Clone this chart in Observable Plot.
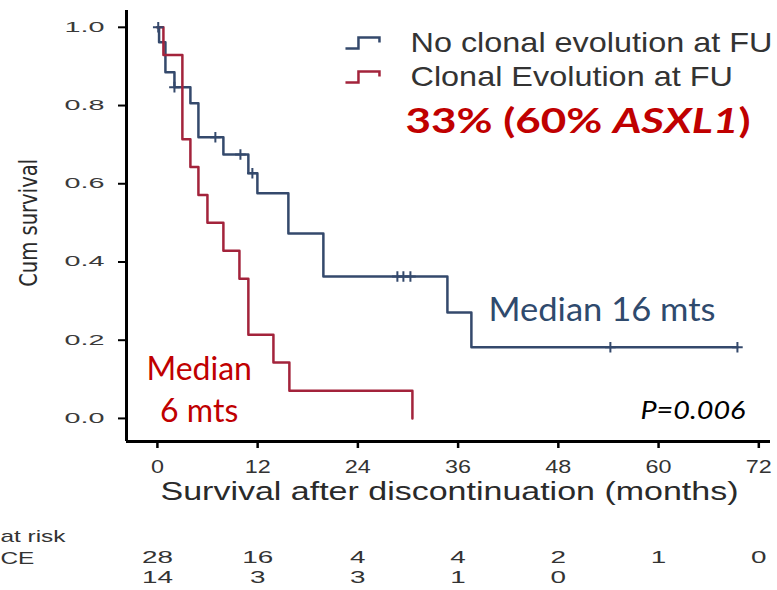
<!DOCTYPE html>
<html>
<head>
<meta charset="utf-8">
<script src="https://cdn.jsdelivr.net/npm/d3@7"></script>
<script src="https://cdn.jsdelivr.net/npm/@observablehq/plot@0.6"></script>
<style>
  html, body { margin: 0; padding: 0; background: #fff; }
  #chart svg { display: block; }
</style>
</head>
<body>
<div id="chart"></div>
<script>
// Kaplan–Meier curves: event times (months) and cumulative survival after each step
const noCeTime = [0, 0.2, 0.96, 2.04, 3.95, 4.91, 7.9, 10.89, 11.97, 15.68, 19.87, 34.72, 37.59, 69.44];
const noCeSurv = [1, 0.962, 0.885, 0.847, 0.806, 0.719, 0.675, 0.627, 0.576, 0.473, 0.363, 0.271, 0.182, 0.182];
const noCeCensorTime = [0.1, 2.04, 6.94, 9.94, 11.37, 28.73, 29.45, 30.29, 54.23, 69.44];
const noCeCensorSurv = [1, 0.847, 0.719, 0.675, 0.627, 0.363, 0.363, 0.363, 0.182, 0.182];
const ceTime = [0, 0.72, 2.99, 3.95, 4.91, 5.99, 7.9, 9.82, 10.89, 13.89, 15.8, 30.53];
const ceSurv = [1, 0.929, 0.714, 0.643, 0.571, 0.5, 0.429, 0.357, 0.214, 0.143, 0.071, 0];

// Legend entries and axis ticks
const groupNames = ["No clonal evolution at FU", "Clonal Evolution at FU"];
const xTicks = [0, 12, 24, 36, 48, 60, 72];
const yTicks = [0, 0.2, 0.4, 0.6, 0.8, 1.0];

// Number at risk table
const riskTimes = [0, 12, 24, 36, 48, 60, 72];
const riskNoCE = [28, 16, 4, 4, 2, 1, 0];
const riskCE = [14, 3, 3, 1, 0];
const riskLabels = ["at risk", "CE"];

// Annotations
const cloneShare = "33% (60% ASXL1)";
const medianNoCE = "Median 16 mts";
const medianCE = "Median\n6 mts";
const pValue = "P=0.006";
const xTitle = "Survival after discontinuation (months)";
const yTitle = "Cum survival";

const BLUE = "#34496c", RED = "#a3233b", ANNOT_RED = "#c00000", ANNOT_BLUE = "#2f4a6d";
const W = 777, H = 590, mL = 126, mR = 7, mT = 10, mB = 149;
const xmin = -3.7, xmax = 73.4, ymin = -0.059, ymax = 1.043;
const pxX = (W - mL - mR) / (xmax - xmin);
const pxY = (H - mT - mB) / (ymax - ymin);

const noCe = noCeTime.map((t, i) => ({t, s: noCeSurv[i]}));
const ce = ceTime.map((t, i) => ({t, s: ceSurv[i]}));
const noCeCensor = noCeCensorTime.map((t, i) => ({t, s: noCeCensorSurv[i]}));
const legend = groupNames.map((name, i) => ({name, color: [BLUE, RED][i], y: 0.961 - i * 34 / pxY}));
const riskRow1 = riskTimes.map((t, i) => ({t, n: riskNoCE[i]}));
const riskRow2 = riskCE.map((n, i) => ({t: riskTimes[i], n}));
const riskLabelRows = riskLabels.map((label, i) => ({label, dy: [100, 122][i]}));

// small step glyph used as the legend swatch
const stepIcon = {
  draw(ctx) {
    ctx.moveTo(-17, 6); ctx.lineTo(-4, 6); ctx.lineTo(-4, -5);
    ctx.lineTo(17, -5); ctx.lineTo(17, 0);
  }
};

const ARIAL = "Liberation Sans, Arial, sans-serif";
const CAL = "Lato, Carlito, Calibri, sans-serif";

// named layers, drawn in this order
const layers = [
  ["y axis", Plot.ruleX([xmin], {y1: ymin, y2: ymax, stroke: "#000", strokeWidth: 3})],
  ["x axis", Plot.ruleY([ymin], {x1: xmin, x2: xmax, stroke: "#000", strokeWidth: 3})],
  ["y ticks", Plot.ruleY(yTicks, {x1: xmin - 8 / pxX, x2: xmin, stroke: "#000", strokeWidth: 2})],
  ["x ticks", Plot.ruleX(xTicks, {y1: ymin, y2: ymin - 7 / pxY, stroke: "#000", strokeWidth: 2.5})],
  ["y tick label", Plot.text(yTicks, {x: xmin, y: d => d, text: d => d.toFixed(1), textAnchor: "end", dx: -22,
    fontFamily: ARIAL, fontSize: 14, fill: "#3a3a3a"})],
  ["x tick label", Plot.text(xTicks, {x: d => d, frameAnchor: "bottom", dy: 31, text: d => String(d),
    fontFamily: ARIAL, fontSize: 19, fill: "#333"})],
  ["x title", Plot.text([xTitle], {x: 34.97, frameAnchor: "bottom", dy: 58, text: d => d,
    fontFamily: ARIAL, fontSize: 25, fill: "#2a2a2a"})],
  ["y title", Plot.text([yTitle], {x: xmin - (mL - 28) / pxX, y: 0.50, rotate: -90, text: d => d,
    fontFamily: "Liberation Sans Narrow, Arial Narrow, DejaVu Sans Condensed, sans-serif",
    fontSize: 25, fill: "#2a2a2a"})],

  // survival curves
  ["no ce curve", Plot.line(noCe, {x: "t", y: "s", curve: "step-after", stroke: BLUE, strokeWidth: 2.5})],
  ["ce curve", Plot.line(ce, {x: "t", y: "s", curve: "step-after", stroke: RED, strokeWidth: 2.5})],
  ["censored", Plot.dot(noCeCensor, {x: "t", y: "s", symbol: "plus", r: 3.5, stroke: BLUE, strokeWidth: 2})],

  // legend
  ["legend swatch", Plot.dot(legend, {x: 24.55, y: "y", symbol: stepIcon, stroke: "color", fill: "none", strokeWidth: 2.5})],
  ["legend label", Plot.text(legend, {x: 30.3, y: "y", text: "name", textAnchor: "start",
    fontFamily: ARIAL, fontSize: 28, fill: "#333"})],

  // annotations
  ["clone share", Plot.text([cloneShare], {x: 29.7, y: 0.757, text: d => d, textAnchor: "start",
    fontFamily: CAL, fontWeight: "bold", fontSize: 34, fill: ANNOT_RED})],
  ["median no ce", Plot.text([medianNoCE], {x: 39.64, y: 0.276, text: d => d, textAnchor: "start",
    fontFamily: CAL, fontSize: 32, fill: ANNOT_BLUE})],
  ["median ce", Plot.text([medianCE], {x: 5.0, y: 0.079, text: d => d, lineHeight: 1.31,
    fontFamily: CAL, fontSize: 32, fill: ANNOT_RED})],
  ["p value", Plot.text([pValue], {x: 70.4, y: 0.02, text: d => d, textAnchor: "end",
    fontFamily: CAL, fontStyle: "italic", fontSize: 25, fill: "#000"})],

  // number at risk
  ["risk label 1", Plot.text([riskLabelRows[0]], {x: xmin - mL / pxX, frameAnchor: "bottom", dy: riskLabelRows[0].dy,
    text: "label", textAnchor: "start", fontFamily: ARIAL, fontSize: 17, fill: "#333"})],
  ["risk label 2", Plot.text([riskLabelRows[1]], {x: xmin - mL / pxX, frameAnchor: "bottom", dy: riskLabelRows[1].dy,
    text: "label", textAnchor: "start", fontFamily: ARIAL, fontSize: 17, fill: "#333"})],
  ["risk row 1", Plot.text(riskRow1, {x: "t", frameAnchor: "bottom", dy: 121, text: d => String(d.n),
    fontFamily: ARIAL, fontSize: 17, fill: "#333"})],
  ["risk row 2", Plot.text(riskRow2, {x: "t", frameAnchor: "bottom", dy: 141, text: d => String(d.n),
    fontFamily: ARIAL, fontSize: 17, fill: "#333"})]
];

const plot = Plot.plot({
  width: W, height: H,
  marginLeft: mL, marginRight: mR, marginTop: mT, marginBottom: mB,
  x: {domain: [xmin, xmax], axis: null},
  y: {domain: [ymin, ymax], axis: null},
  color: {type: "identity"},
  style: {background: "#fff", overflow: "visible"},
  marks: layers.map(d => d[1])
});

document.getElementById("chart").append(plot);

// mark groups are the svg's direct <g> children, in layer order
const groupsEl = Array.from(plot.children).filter(n => n.tagName.toLowerCase() === "g");
const textsOf = name => {
  const i = layers.findIndex(d => d[0] === name);
  const g = groupsEl[i];
  return g ? Array.from(g.querySelectorAll("text")) : [];
};

// italic gene name inside the clone share note
textsOf("clone share").forEach(n => {
  const t = d3.select(n);
  t.text(null);
  t.append("tspan").text("33% (60% ");
  t.append("tspan").attr("font-style", "italic").text("ASXL1");
  t.append("tspan").text(")");
});

// widen glyphs of a text group so its reference string spans the given width
function stretch(names, refWidth, refIndex = 0) {
  const nodes = [].concat(...[].concat(names).map(textsOf));
  if (!nodes.length) return;
  const ref = nodes[Math.min(refIndex, nodes.length - 1)].getComputedTextLength();
  if (!(ref > 0)) return;
  const k = refWidth / ref;
  for (const n of nodes) {
    const w = n.getComputedTextLength();
    n.setAttribute("textLength", (w * k).toFixed(1));
    n.setAttribute("lengthAdjust", "spacingAndGlyphs");
  }
}
stretch("y tick label", 40, 4);
stretch("x tick label", 26, 1);
stretch("x title", 578);
stretch("y title", 128);
stretch("legend label", 362);
stretch("clone share", 345);
stretch("median no ce", 227);
stretch("p value", 105);
stretch(["risk row 1", "risk row 2"], 31);
stretch(["risk label 1", "risk label 2"], 65);
</script>
</body>
</html>
